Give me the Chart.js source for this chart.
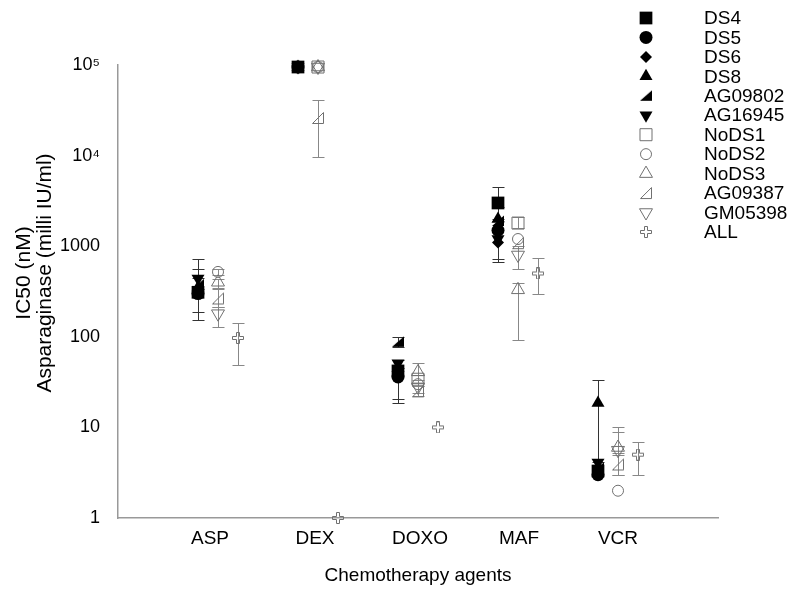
<!DOCTYPE html>
<html lang="en">
<head>
<meta charset="UTF-8">
<title>IC50 by chemotherapy agent</title>
<script src="https://cdn.jsdelivr.net/npm/chart.js"></script>
<style>
    body { margin: 0; background: #fff; }
    #wrap { width: 800px; height: 591px; }
</style>
</head>
<body>
<div id="wrap"><canvas id="icChart"></canvas></div>
<script>
// categories and tick labels
const agents = ['ASP', 'DEX', 'DOXO', 'MAF', 'VCR'];
const yTickValues = [1, 10, 100, 1000, 10000, 100000];
const yTickLabels = ['1', '10', '100', '1000', '10\u2074', '10\u2075'];
const yTitleLines = ['IC50 (nM)', 'Asparaginase (milli IU/ml)'];

// IC50 values per cell line, in agent order
const ds4     = [310, 95000, 42, 3000, 3.3];
const ds5     = [300, 95000, 36, 1500, 3.0];
const ds6     = [320, 95000, 40, 1100, 3.2];
const ds8     = [350, 95000, 45, 2000, 18.6];
const ag09802 = [380, 95000, 88, 1900, 3.6];
const ag16945 = [440, 95000, 51, 1200, 4.1];
const nods1   = [null, 95000, 34, 1800, null];
const nods2   = [520, 95000, 30, 1200, 2.0];
const nods3   = [400, 95000, 41, 330, 6.0];
const ag09387 = [265, 26000, 25, 1080, 3.9];
const gm05398 = [180, 95000, 28, 800, 5.6];
const all     = [97, 1, 10, 500, 5.0];

// error bars [low, high], null where none is drawn
const ds4Err     = [null, null, null, [2000, 4500], null];
const ds5Err     = [[153, 560], null, [18.6, 45], [670, 2700], null];
const ds6Err     = [[188, 450], null, null, null, null];
const ds8Err     = [null, null, null, null, [4.2, 33]];
const ag09802Err = [null, null, [78, 100], null, null];
const ag16945Err = [[340, 720], null, [20.6, 56], [722, 1900], null];
const nods1Err   = [null, null, [29, 38], [1600, 2100], null];
const nods2Err   = [[480, 560], null, null, null, null];
const nods3Err   = [[350, 440], null, [33, 51], [92, 390], [5.2, 10]];
const ag09387Err = [[213, 340], [9600, 41000], [22, 29], null, [3.0, 5.0]];
const gm05398Err = [[128, 213], null, [24, 31], [560, 1000], [3.0, 8.9]];
const allErr     = [[49, 142], null, null, [297, 741], [3.0, 6.9]];

// --- layout / style (not data) ---
const FONT = "'Liberation Sans', Arial, sans-serif";
const BLACK = '#000';
const GREY = '#707070';
const colOffset = [0, 0.2, 0.4];     // filled DS/AG, open NoDS, ALL
const labelAt = [1.12, 2.17, 3.22, 4.21, 5.2];

function shapeCanvas(w, h, draw) {
    const c = document.createElement('canvas');
    c.width = w; c.height = h;
    const g = c.getContext('2d');
    draw(g);
    return c;
}
const triFilled = shapeCanvas(14, 12, g => {
    g.fillStyle = BLACK;
    g.beginPath(); g.moveTo(13, 0.5); g.lineTo(13, 11); g.lineTo(1, 11); g.closePath(); g.fill();
});
const triOpen = shapeCanvas(14, 14, g => {
    g.strokeStyle = GREY; g.lineWidth = 1;
    g.beginPath(); g.moveTo(12.5, 1.5); g.lineTo(12.5, 12.5); g.lineTo(1.5, 12.5); g.closePath(); g.stroke();
});
const plusOpen = shapeCanvas(12, 12, g => {
    g.strokeStyle = GREY; g.lineWidth = 1;
    const a = 0.5, b = 4.5, c = 7.5, d = 11.5;
    g.beginPath();
    g.moveTo(b, a); g.lineTo(c, a); g.lineTo(c, b); g.lineTo(d, b); g.lineTo(d, c); g.lineTo(c, c);
    g.lineTo(c, d); g.lineTo(b, d); g.lineTo(b, c); g.lineTo(a, c); g.lineTo(a, b); g.lineTo(b, b);
    g.closePath(); g.stroke();
});

const series = [
    { name: 'DS4',     vals: ds4,     err: ds4Err,     col: 0, style: 'rect',     r: 9,   rot: 0,   filled: true },
    { name: 'DS5',     vals: ds5,     err: ds5Err,     col: 0, style: 'circle',   r: 6.5, rot: 0,   filled: true },
    { name: 'DS6',     vals: ds6,     err: ds6Err,     col: 0, style: 'rectRot',  r: 6,   rot: 0,   filled: true },
    { name: 'DS8',     vals: ds8,     err: ds8Err,     col: 0, style: 'triangle', r: 7.5, rot: 0,   filled: true },
    { name: 'AG09802', vals: ag09802, err: ag09802Err, col: 0, style: triFilled,  r: 7,   rot: 0,   filled: true },
    { name: 'AG16945', vals: ag16945, err: ag16945Err, col: 0, style: 'triangle', r: 7.5, rot: 180, filled: true },
    { name: 'NoDS1',   vals: nods1,   err: nods1Err,   col: 1, style: 'rect',     r: 8.5, rot: 0,   filled: false },
    { name: 'NoDS2',   vals: nods2,   err: nods2Err,   col: 1, style: 'circle',   r: 5.5, rot: 0,   filled: false },
    { name: 'NoDS3',   vals: nods3,   err: nods3Err,   col: 1, style: 'triangle', r: 7.5, rot: 0,   filled: false },
    { name: 'AG09387', vals: ag09387, err: ag09387Err, col: 1, style: triOpen,    r: 7,   rot: 0,   filled: false },
    { name: 'GM05398', vals: gm05398, err: gm05398Err, col: 1, style: 'triangle', r: 7.5, rot: 180, filled: false },
    { name: 'ALL',     vals: all,     err: allErr,     col: 2, style: plusOpen,   r: 6,   rot: 0,   filled: false }
];

const datasets = series.map(s => ({
    label: s.name,
    data: s.vals.map((v, i) => ({ x: i + 1 + colOffset[s.col], y: v })),
    pointStyle: s.style,
    pointRadius: s.r,
    pointRotation: s.rot,
    pointBackgroundColor: s.filled ? BLACK : 'rgba(0,0,0,0)',
    pointBorderColor: s.filled ? BLACK : GREY,
    pointBorderWidth: s.filled ? 0 : 1,
    showLine: false,
    clip: false
}));

// error bars drawn under the markers
const errorBars = {
    id: 'errorBars',
    beforeDatasetsDraw(chart) {
        const { ctx, scales: { x, y } } = chart;
        ctx.save();
        ctx.lineWidth = 1;
        series.forEach(s => {
            s.err.forEach((e, i) => {
                if (!e) return;
                const px = Math.round(x.getPixelForValue(i + 1 + colOffset[s.col])) + 0.5;
                const top = Math.round(y.getPixelForValue(e[1])) + 0.5;
                const bot = Math.round(y.getPixelForValue(e[0])) + 0.5;
                ctx.strokeStyle = s.filled ? '#333' : '#888';
                ctx.beginPath();
                ctx.moveTo(px, top); ctx.lineTo(px, bot);
                ctx.moveTo(px - 6, top); ctx.lineTo(px + 6, top);
                ctx.moveTo(px - 6, bot); ctx.lineTo(px + 6, bot);
                ctx.stroke();
            });
        });
        ctx.restore();
    }
};

// legend in the top right corner, over the plot; y title sits a bit above centre
const cornerLegend = {
    id: 'cornerLegend',
    afterDraw(chart) {
        const ctx = chart.ctx;
        ctx.save();
        ctx.font = '19px ' + FONT;
        ctx.textBaseline = 'middle';
        series.forEach((s, i) => {
            const yy = 18 + i * 19.45;
            ctx.fillStyle = s.filled ? BLACK : 'rgba(0,0,0,0)';
            ctx.strokeStyle = s.filled ? BLACK : GREY;
            ctx.lineWidth = 1;
            Chart.helpers.drawPoint(ctx, {
                pointStyle: s.style, radius: s.r, rotation: s.rot,
                borderWidth: s.filled ? 0 : 1
            }, 646, yy);
            ctx.fillStyle = BLACK;
            ctx.fillText(s.name, 704, yy + 1);
        });

        // y axis title, two lines
        ctx.font = '21px ' + FONT;
        ctx.textAlign = 'center';
        ctx.fillStyle = BLACK;
        yTitleLines.forEach((t, i) => {
            ctx.save();
            ctx.translate(24 + i * 21, 273);
            ctx.rotate(-Math.PI / 2);
            ctx.fillText(t, 0, 0);
            ctx.restore();
        });
        ctx.restore();
    }
};

new Chart(document.getElementById('icChart'), {
    type: 'scatter',
    data: { datasets },
    plugins: [errorBars, cornerLegend],
    options: {
        responsive: true,
        maintainAspectRatio: false,
        animation: false,
        events: [],
        layout: { padding: { top: 65, right: 82, left: 0, bottom: 0 } },
        plugins: { legend: { display: false }, tooltip: { enabled: false } },
        scales: {
            x: {
                type: 'linear',
                min: 0.2,
                max: 6.2,
                afterFit: s => { s.height = 73; },
                afterBuildTicks: s => { s.ticks = labelAt.map(v => ({ value: v })); },
                grid: { drawOnChartArea: false, drawTicks: false },
                border: { color: '#999', width: 1.5 },
                ticks: {
                    autoSkip: false,
                    maxRotation: 0,
                    padding: 9,
                    color: '#000',
                    font: { family: FONT, size: 19 },
                    callback: (v, i) => agents[i]
                },
                title: {
                    display: true,
                    text: 'Chemotherapy agents',
                    color: '#000',
                    font: { family: FONT, size: 19 },
                    padding: { top: 0, bottom: 4 }
                }
            },
            y: {
                type: 'logarithmic',
                min: 1,
                max: 100000,
                afterFit: s => { s.width = 118; },
                afterBuildTicks: s => { s.ticks = yTickValues.map(v => ({ value: v })); },
                grid: { drawOnChartArea: false, drawTicks: false },
                border: { color: '#999', width: 1.5 },
                ticks: {
                    padding: 18,
                    color: '#000',
                    font: { family: FONT, size: 18 },
                    callback: (v, i) => yTickLabels[i]
                },
                title: { display: false }
            }
        }
    }
});
</script>
</body>
</html>
